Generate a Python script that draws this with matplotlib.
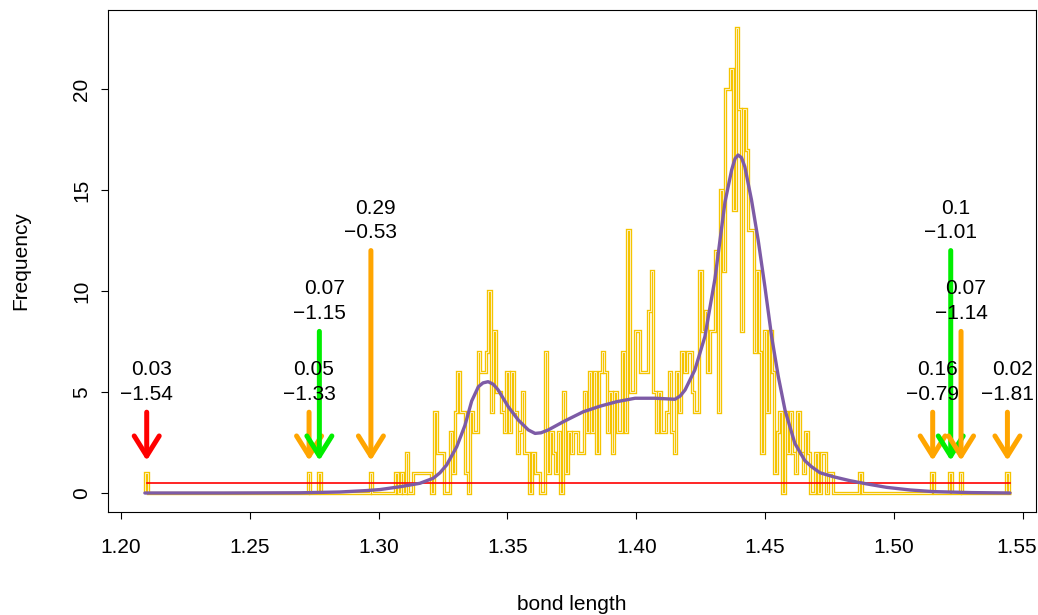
import numpy as np
import matplotlib
matplotlib.use("Agg")
import matplotlib.pyplot as plt
import matplotlib.transforms as mtransforms
from matplotlib.patches import FancyArrowPatch

plt.rcParams["font.family"] = ["Liberation Sans", "DejaVu Sans"]

# histogram of bond lengths, 0.001 wide bins starting at 1.2095
bin_start = 1.2095
bin_width = 0.001
counts = [
    # 1.210 - 1.229
    1, 0, 0, 0, 0, 0, 0, 0, 0, 0, 0, 0, 0, 0, 0, 0, 0, 0, 0, 0,
    # 1.230 - 1.249
    0, 0, 0, 0, 0, 0, 0, 0, 0, 0, 0, 0, 0, 0, 0, 0, 0, 0, 0, 0,
    # 1.250 - 1.269
    0, 0, 0, 0, 0, 0, 0, 0, 0, 0, 0, 0, 0, 0, 0, 0, 0, 0, 0, 0,
    # 1.270 - 1.289
    0, 0, 0, 1, 0, 0, 0, 1, 0, 0, 0, 0, 0, 0, 0, 0, 0, 0, 0, 0,
    # 1.290 - 1.309
    0, 0, 0, 0, 0, 0, 0, 1, 0, 0, 0, 0, 0, 0, 0, 0, 0, 1, 0, 1,
    # 1.310 - 1.329
    0, 2, 0, 0, 1, 1, 1, 1, 1, 1, 1, 0, 4, 2, 2, 2, 0, 0, 3, 1,
    # 1.330 - 1.349
    4, 6, 4, 4, 1, 0, 4, 3, 3, 7, 6, 6, 7, 10, 4, 8, 5, 5, 4, 3,
    # 1.350 - 1.369
    6, 3, 6, 4, 2, 3, 5, 2, 2, 0, 2, 1, 1, 0, 0, 7, 1, 3, 2, 1,
    # 1.370 - 1.389
    3, 0, 5, 1, 3, 2, 3, 3, 2, 2, 5, 3, 6, 3, 6, 2, 6, 7, 6, 3,
    # 1.390 - 1.409
    5, 2, 5, 3, 3, 7, 3, 13, 5, 5, 8, 8, 6, 6, 6, 9, 11, 5, 3, 5,
    # 1.410 - 1.429
    3, 3, 4, 6, 3, 2, 6, 4, 7, 6, 7, 7, 5, 4, 4, 11, 8, 9, 6, 8,
    # 1.430 - 1.449
    8, 12, 4, 15, 11, 20, 20, 21, 14, 23, 19, 8, 19, 17, 13, 13, 7, 11, 7, 2,
    # 1.450 - 1.469
    8, 4, 8, 6, 1, 3, 4, 0, 4, 2, 4, 2, 1, 4, 2, 1, 3, 2, 0, 0,
    # 1.470 - 1.489
    2, 0, 2, 2, 0, 1, 1, 0, 0, 0, 0, 0, 0, 0, 0, 0, 0, 1, 0, 0,
    # 1.490 - 1.509
    0, 0, 0, 0, 0, 0, 0, 0, 0, 0, 0, 0, 0, 0, 0, 0, 0, 0, 0, 0,
    # 1.510 - 1.529
    0, 0, 0, 0, 0, 1, 0, 0, 0, 0, 0, 0, 1, 0, 0, 0, 1, 0, 0, 0,
    # 1.530 - 1.545
    0, 0, 0, 0, 0, 0, 0, 0, 0, 0, 0, 0, 0, 0, 1, 0,
]
edges = bin_start + bin_width * np.arange(len(counts) + 1)

# smoothed density, scaled to counts
curve_x = [1.2093, 1.2400, 1.2695, 1.2850, 1.2953, 1.3005, 1.3083, 1.3160, 1.3212,
           1.3238, 1.3264, 1.3303, 1.3335, 1.3361, 1.3387, 1.3405, 1.3425, 1.3445,
           1.3464, 1.3503, 1.3542, 1.3581, 1.3607, 1.3630, 1.3658, 1.3720, 1.3794,
           1.3860, 1.3924, 1.3995, 1.4072, 1.4120, 1.4150, 1.4170, 1.4189, 1.4227,
           1.4266, 1.4305, 1.4344, 1.4370, 1.4383, 1.4395, 1.4408, 1.4421, 1.4447,
           1.4473, 1.4499, 1.4525, 1.4551, 1.4577, 1.4615, 1.4654, 1.4680, 1.4713,
           1.4763, 1.4829, 1.4894, 1.4971, 1.5062, 1.5150, 1.5300, 1.5450]
curve_y = [0.00, 0.00, 0.01, 0.05, 0.12, 0.17, 0.31, 0.48, 0.73,
           1.00, 1.39, 2.29, 3.35, 4.55, 5.26, 5.45, 5.51, 5.38,
           5.10, 4.27, 3.61, 3.12, 2.95, 2.98, 3.12, 3.55, 4.02,
           4.30, 4.52, 4.69, 4.69, 4.66, 4.64, 4.80, 5.10, 6.09,
           7.74, 10.60, 14.40, 16.00, 16.55, 16.73, 16.60, 16.15, 14.50,
           12.50, 10.20, 7.74, 5.76, 4.10, 2.46, 1.60, 1.30, 1.00,
           0.81, 0.61, 0.45, 0.28, 0.15, 0.07, 0.02, 0.00]

# flagged bond lengths: position, arrow height, colour, two label lines
flag_x = [1.210, 1.273, 1.277, 1.297, 1.515, 1.522, 1.526, 1.544]
flag_top = [4, 4, 8, 12, 4, 12, 8, 4]
flag_col = ["red", "orange", "#00EE00", "orange", "orange", "#00EE00", "orange", "orange"]
flag_p = ["0.03", "0.05", "0.07", "0.29", "0.16", "0.1", "0.07", "0.02"]
flag_z = ["\u22121.54", "\u22121.33", "\u22121.15", "\u22120.53",
          "\u22120.79", "\u22121.01", "\u22121.14", "\u22121.81"]

fs = 15

fig = plt.figure(figsize=(10.38, 6.15), dpi=100)
ax = fig.add_axes([0.104, 0.1675, 0.894, 0.8163])

# gold outline with a pale core
ax.stairs(counts, edges, color="#F5C400", linewidth=2.4, baseline=0)
ax.stairs(counts, edges, color="#FDF0C4", linewidth=0.7, baseline=0)
ax.plot([edges[0] + 0.0005, edges[-1] - 0.0005], [0.5, 0.5], color="red", linewidth=1.2)
ax.plot(curve_x, curve_y, color="#7D5BA6", linewidth=2.4,
        solid_capstyle="round", solid_joinstyle="round")

for x, top, col, p, z in zip(flag_x, flag_top, flag_col, flag_p, flag_z):
    arr = FancyArrowPatch((x, top), (x, 1.6),
                          arrowstyle="->,head_length=0.4,head_width=0.25",
                          mutation_scale=36, color=col, linewidth=3.6,
                          capstyle="round", joinstyle="round",
                          shrinkA=0, shrinkB=0)
    ax.add_patch(arr)
    ax.annotate(p, (x, top + 2.1), xytext=(3.5, 0), textcoords="offset points",
                ha="center", va="center", fontsize=fs)
    ax.text(x, top + 0.9, z, ha="center", va="center", fontsize=fs)

ax.set_xlim(1.19496, 1.55506)
ax.set_ylim(-0.94, 23.91)
ax.set_xticks([1.20, 1.25, 1.30, 1.35, 1.40, 1.45, 1.50, 1.55])
ax.set_xticklabels(["1.20", "1.25", "1.30", "1.35", "1.40", "1.45", "1.50", "1.55"])
ax.set_yticks([0, 5, 10, 15, 20])
ax.tick_params(axis="both", direction="out", length=5, width=0.8, labelsize=fs)
ax.tick_params(axis="x", pad=14)
ax.tick_params(axis="y", pad=7)
for lab in ax.get_yticklabels():
    lab.set_rotation(90)
    lab.set_va("center")
# keep the last x label inside the figure edge
last = ax.get_xticklabels()[-1]
last.set_transform(last.get_transform() +
                   mtransforms.ScaledTranslation(-6 / 100, 0, fig.dpi_scale_trans))
for s in ax.spines.values():
    s.set_linewidth(0.8)

ax.set_xlabel("bond length", fontsize=fs, labelpad=27)
ax.set_ylabel("Frequency", fontsize=fs, labelpad=30)

fig.savefig("out.png", dpi=100)
